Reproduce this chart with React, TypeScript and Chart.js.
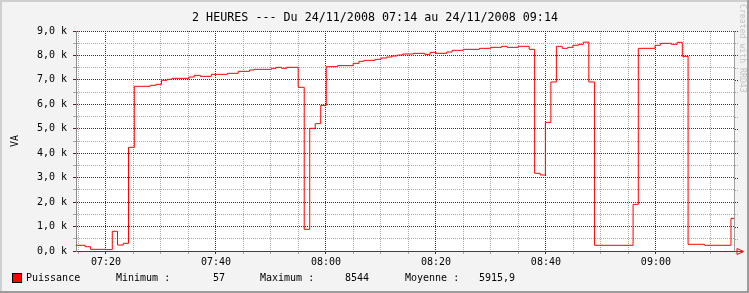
import React, { useEffect, useRef } from 'react';
import { Chart, registerables } from 'chart.js';

Chart.register(...registerables);

const TITLE = '2 HEURES --- Du 24/11/2008 07:14 au 24/11/2008 09:14';
const Y_AXIS_LABEL = 'VA';
const SERIES_NAME = 'Puissance';
const STAT_TEXTS = ['Minimum :', '57', 'Maximum :', '8544', 'Moyenne :', '5915,9'];
const WATERMARK = 'Created with RRD43';

// time in minutes after 07:00, value (VA) held until next sample
const TIME_MIN = [
  14.55, 16.2, 17.2, 20.05, 21.15, 22.1, 23.15, 24.1, 25.15, 28.05,
  29.1, 30.1, 31.1, 32.0, 35.1, 36.05, 37.15, 39.15, 42.1, 44.05,
  46.1, 46.9, 50.1, 50.95, 51.95, 52.85, 54.95, 56.05, 57.05, 58.05,
  59.05, 60.05, 62.1, 64.95, 66.0, 66.9, 68.95, 70.0, 71.05, 72.0,
  72.95, 73.95, 75.9, 77.95, 78.95, 80.0, 81.95, 82.95, 84.95, 87.9,
  89.95, 91.95, 92.95, 94.95, 96.95, 97.95, 98.95, 99.9, 100.9, 101.9,
  102.95, 103.95, 104.9, 105.9, 106.8, 107.8, 108.85, 115.85, 116.8, 119.85,
  120.8, 122.8, 123.85, 124.8, 125.85, 128.85, 133.65, 134.2,
];
const POWER_VA = [
  233, 176, 68, 57, 805, 245, 314, 4242, 6737, 6778,
  6819, 6983, 7024, 7065, 7118, 7186, 7145, 7227, 7268, 7350,
  7405, 7432, 7473, 7514, 7473, 7514, 6696, 886, 5018, 5209,
  5959, 7541, 7582, 7677, 7759, 7800, 7841, 7895, 7936, 7977,
  8018, 8059, 8086, 8045, 8127, 8086, 8141, 8209, 8250, 8291,
  8332, 8373, 8332, 8373, 8250, 3179, 3109, 5264, 6914, 8373,
  8291, 8332, 8414, 8455, 8544, 6914, 233, 1909, 8291, 8414,
  8496, 8455, 8537, 7964, 274, 233, 1336, 1336,
];

const X_MIN = 14.55;
const X_MAX = 134.2;
const X_TICKS = [15, 20, 25, 30, 35, 40, 45, 50, 55, 60, 65, 70, 75, 80, 85, 90, 95, 100, 105, 110, 115, 120, 125, 130];
const X_MAJOR_TICKS = [20, 40, 60, 80, 100, 120];
const X_MAJOR_LABELS = ['07:20', '07:40', '08:00', '08:20', '08:40', '09:00'];

const Y_MIN = 0;
const Y_MAX = 9000;
const Y_TICKS = [0, 500, 1000, 1500, 2000, 2500, 3000, 3500, 4000, 4500, 5000, 5500, 6000, 6500, 7000, 7500, 8000, 8500, 9000];
const Y_MAJOR_TICKS = [0, 1000, 2000, 3000, 4000, 5000, 6000, 7000, 8000, 9000];
const Y_MAJOR_LABELS = ['0,0 k', '1,0 k', '2,0 k', '3,0 k', '4,0 k', '5,0 k', '6,0 k', '7,0 k', '8,0 k', '9,0 k'];

const FONT = 'DejaVu Sans Mono';
const MAJOR_GRID = '#8a1010';
const MINOR_GRID = '#a8a8a8';
const LINE_COLOR = '#ff0000';

const W = 749;
const H = 293;

const decorPlugin = {
  id: 'rrdDecor',
  beforeDraw(chart: any) {
    const { ctx, chartArea } = chart;
    ctx.save();
    ctx.fillStyle = '#f3f3f3';
    ctx.fillRect(0, 0, W, H);
    ctx.fillStyle = '#cfcfcf';
    ctx.fillRect(0, 0, W, 2);
    ctx.fillRect(0, 0, 2, H);
    ctx.fillStyle = '#9c9c9c';
    ctx.fillRect(0, H - 2, W, 2);
    ctx.fillRect(W - 2, 0, 2, H);
    ctx.fillStyle = '#ffffff';
    ctx.fillRect(chartArea.left, chartArea.top, chartArea.right - chartArea.left, chartArea.bottom - chartArea.top);
    ctx.restore();
  },
  afterDatasetsDraw(chart: any) {
    const { ctx, chartArea, scales } = chart;
    const ys = scales.y;
    ctx.save();
    ctx.strokeStyle = '#a0a0a0';
    ctx.lineWidth = 1;
    ctx.beginPath();
    ctx.moveTo(chartArea.right + 0.5, chartArea.top);
    ctx.lineTo(chartArea.right + 0.5, chartArea.bottom);
    ctx.stroke();
    ctx.setLineDash([1, 1]);
    Y_TICKS.forEach((v) => {
      const y = Math.round(ys.getPixelForValue(v)) + 0.5;
      ctx.strokeStyle = Y_MAJOR_TICKS.includes(v) ? MAJOR_GRID : MINOR_GRID;
      ctx.beginPath();
      ctx.moveTo(chartArea.right + 1, y);
      ctx.lineTo(chartArea.right + 4, y);
      ctx.stroke();
    });
    ctx.setLineDash([]);
    const ay = chartArea.bottom + 0.5;
    ctx.strokeStyle = LINE_COLOR;
    ctx.beginPath();
    ctx.moveTo(chartArea.right, ay);
    ctx.lineTo(chartArea.right + 9, ay);
    ctx.stroke();
    ctx.beginPath();
    ctx.moveTo(chartArea.right + 3, ay - 3);
    ctx.lineTo(chartArea.right + 9.5, ay);
    ctx.lineTo(chartArea.right + 3, ay + 3);
    ctx.closePath();
    ctx.stroke();

    ctx.fillStyle = '#000';
    ctx.font = `11.7px "${FONT}"`;
    ctx.textAlign = 'center';
    ctx.textBaseline = 'middle';
    ctx.fillText(TITLE, 375, 18);

    ctx.save();
    ctx.translate(15, (chartArea.top + chartArea.bottom) / 2);
    ctx.rotate(-Math.PI / 2);
    ctx.font = `10px "${FONT}"`;
    ctx.fillText(Y_AXIS_LABEL, 0, 0);
    ctx.restore();

    ctx.fillStyle = LINE_COLOR;
    ctx.fillRect(12, 273, 10, 10);
    ctx.strokeStyle = '#000';
    ctx.lineWidth = 1;
    ctx.strokeRect(12.5, 273.5, 9, 9);
    ctx.fillStyle = '#000';
    ctx.font = `10px "${FONT}"`;
    ctx.textAlign = 'left';
    ctx.textBaseline = 'middle';
    ctx.fillText(SERIES_NAME, 26, 278.5);
    const statX = [116, 213, 260, 345, 405, 479];
    STAT_TEXTS.forEach((t, i) => ctx.fillText(t, statX[i], 278.5));

    ctx.save();
    ctx.translate(742, 4);
    ctx.rotate(Math.PI / 2);
    ctx.fillStyle = '#c4c4c4';
    ctx.font = `8.2px "${FONT}"`;
    ctx.textAlign = 'left';
    ctx.textBaseline = 'middle';
    ctx.fillText(WATERMARK, 0, 0);
    ctx.restore();

    ctx.restore();
  },
};

export default function App() {
  const ref = useRef<HTMLCanvasElement | null>(null);

  useEffect(() => {
    document.body.style.margin = '0';
    const canvas = ref.current;
    if (!canvas) return;

    const points = TIME_MIN.map((t, i) => ({ x: t, y: POWER_VA[i] }));

    const chart = new Chart(canvas, {
      type: 'line',
      data: {
        datasets: [
          {
            label: SERIES_NAME,
            data: points,
            stepped: true,
            borderColor: LINE_COLOR,
            borderWidth: 1,
            pointRadius: 0,
            fill: false,
            tension: 0,
          },
        ],
      },
      options: {
        responsive: false,
        animation: false,
        devicePixelRatio: 1,
        layout: { padding: { left: 0, right: 15, top: 31, bottom: 0 } },
        plugins: {
          legend: { display: false },
          title: { display: false },
          tooltip: { enabled: false },
        },
        scales: {
          x: {
            type: 'linear',
            min: X_MIN,
            max: X_MAX,
            afterBuildTicks: (scale: any) => {
              scale.ticks = X_TICKS.map((v) => ({ value: v }));
            },
            afterFit: (scale: any) => {
              scale.height = 42;
            },
            ticks: {
              autoSkip: false,
              maxRotation: 0,
              minRotation: 0,
              padding: 2,
              color: '#000',
              font: { family: FONT, size: 10 },
              callback: (value: any) => {
                const i = X_MAJOR_TICKS.indexOf(Number(value));
                return i >= 0 ? X_MAJOR_LABELS[i] : '';
              },
            },
            grid: {
              color: (ctx: any) =>
                ctx.tick && X_MAJOR_TICKS.includes(ctx.tick.value) ? MAJOR_GRID : MINOR_GRID,
              tickLength: 3,
              lineWidth: 1,
            },
            border: { display: true, color: '#404040', width: 1, dash: [1, 1] },
          },
          y: {
            type: 'linear',
            min: Y_MIN,
            max: Y_MAX,
            afterBuildTicks: (scale: any) => {
              scale.ticks = Y_TICKS.map((v) => ({ value: v }));
            },
            afterFit: (scale: any) => {
              scale.width = 76;
            },
            ticks: {
              autoSkip: false,
              padding: 6,
              color: '#000',
              font: { family: FONT, size: 10 },
              callback: (value: any) => {
                const i = Y_MAJOR_TICKS.indexOf(Number(value));
                return i >= 0 ? Y_MAJOR_LABELS[i] : '';
              },
            },
            grid: {
              color: (ctx: any) =>
                ctx.tick && Y_MAJOR_TICKS.includes(ctx.tick.value) ? MAJOR_GRID : MINOR_GRID,
              tickLength: 3,
              lineWidth: 1,
            },
            border: { display: true, color: '#8a8a8a', width: 1, dash: [1, 1] },
          },
        },
      },
      plugins: [decorPlugin],
    });

    return () => chart.destroy();
  }, []);

  return (
    <div style={{ position: 'fixed', left: 0, top: 0, width: W, height: H }}>
      <canvas ref={ref} width={W} height={H} style={{ width: W, height: H, display: 'block' }} />
    </div>
  );
}
